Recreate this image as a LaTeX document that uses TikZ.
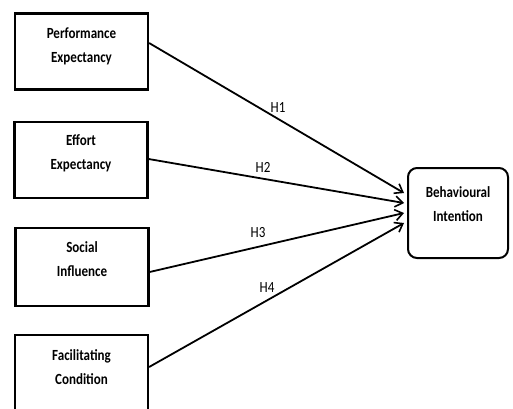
\documentclass[tikz,border=0pt]{standalone}
\usepackage{fontspec}
\setmainfont{Carlito}
\newfontfamily\cfont[FakeStretch=0.84]{Carlito}
\usetikzlibrary{arrows.meta}
\begin{document}
\begin{tikzpicture}[x=1pt,y=-1pt,
  box/.style={draw, line width=2.2pt, minimum width=133pt, inner sep=0pt},
  bibox/.style={draw, line width=2pt, rounded corners=9pt, minimum width=100pt, minimum height=90pt, inner sep=0pt},
  txt/.style={font=\cfont\bfseries\fontsize{15.5}{24}\selectfont, align=center, inner sep=0pt},
  hlab/.style={font=\cfont\fontsize{15.5}{18}\selectfont, inner sep=0pt},
  conn/.style={line width=1.8pt, -{Straight Barb[length=7.5pt,width=11pt,line width=1.6pt]}}]
\useasboundingbox (0,0) rectangle (513,408);
\clip (0,0) rectangle (513,408);
% boxes
\node[box, minimum height=76pt] (pe) at (81.5,51.5) {};
\node[txt] (pet) at (81.5,46) {Performance\\Expectancy};
\node[box, minimum height=76pt] (ee) at (81,160) {};
\node[txt] (eet) at (81,153) {Effort\\Expectancy};
\node[box, minimum height=78pt] (si) at (82,267) {};
\node[txt] (sit) at (82,259) {Social\\Influence};
\node[box, minimum height=80pt] (fc) at (81.5,375) {};
\node[txt] (fct) at (81.5,367) {Facilitating\\Condition};
\node[bibox] (bi) at (458,213) {};
\node[txt] (bit) at (458,204) {Behavioural\\Intention};
% connectors
\draw[conn] ([yshift=8.5pt]pe.east) -- ([xshift=-3pt,yshift=20pt]bi.west);
\draw[conn] ([yshift=1pt]ee.east) -- ([xshift=-3pt,yshift=10pt]bi.west);
\draw[conn] ([yshift=-5pt]si.east) -- ([xshift=-3pt,yshift=0pt]bi.west);
\draw[conn] ([yshift=8pt]fc.east) -- ([xshift=-3pt,yshift=-10pt]bi.west);
% labels
\node[hlab] (h1) at (278,108) {H1};
\node[hlab] (h2) at (263,167) {H2};
\node[hlab] (h3) at (258,233) {H3};
\node[hlab] (h4) at (267,288) {H4};
\end{tikzpicture}
\end{document}
